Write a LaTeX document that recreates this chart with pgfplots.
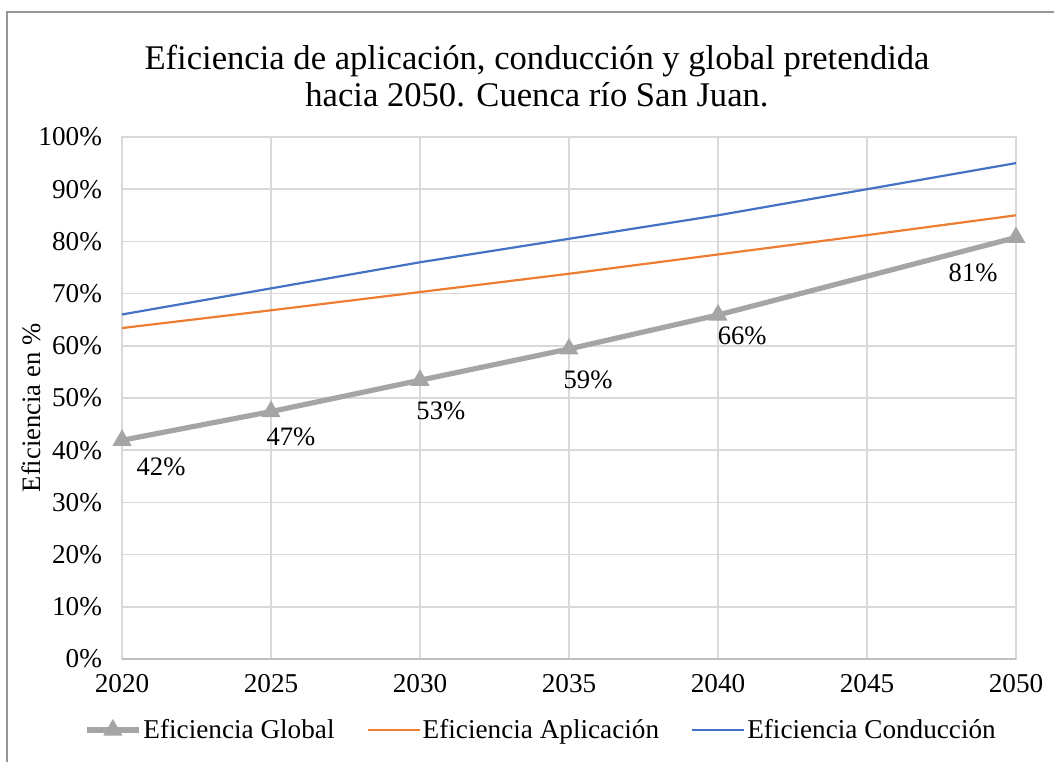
\documentclass[border=0pt]{standalone}
\usepackage{pgfplots}
\pgfplotsset{compat=1.18}
\usepackage{fontspec}
\setmainfont{Liberation Serif}
\definecolor{cglobal}{RGB}{165,165,165}
\definecolor{capl}{RGB}{237,125,49}
\definecolor{ccond}{RGB}{68,114,196}
\definecolor{gridc}{RGB}{217,217,217}
\definecolor{axc}{RGB}{191,191,191}
\definecolor{framec}{RGB}{150,150,150}
\begin{document}
\begin{tikzpicture}
\path[use as bounding box] (0,0) rectangle (527pt,381pt);
\draw[framec, line width=0.8pt] (3.5pt,0) -- (3.5pt,375pt) -- (527pt,375pt);
\node[align=center, font=\fontsize{17.3}{18.5}\selectfont] at (268.5pt,343pt)
  {Eficiencia de aplicación, conducción y global pretendida\\hacia 2050. Cuenca río San Juan.};
\begin{axis}[
  at={(61pt,51.5pt)}, anchor=south west,
  scale only axis, width=447pt, height=261pt,
  xmin=2020, xmax=2050, ymin=0, ymax=100,
  xtick={2020,2025,...,2050},
  ytick={0,10,...,100},
  yticklabel={\pgfmathprintnumber{\tick}\%},
  /pgf/number format/assume math mode=true,
  /pgf/number format/1000 sep={},
  tick label style={font=\fontsize{13.6}{15}\selectfont},
  major tick length=0pt,
  grid=major,
  grid style={gridc, line width=0.75pt},
  axis line style={gridc, line width=0.75pt},
  xticklabel style={yshift=-4pt},
  yticklabel style={xshift=-6.5pt},
  ylabel={Eficiencia en \%},
  ylabel style={font=\fontsize{13.3}{15}\selectfont, at={(ticklabel cs:0.5)}, anchor=center, xshift=-5pt},
  legend columns=3,
  legend style={at={(0.4687,-0.136)}, anchor=center, draw=none, fill=none,
    font=\fontsize{13.6}{15}\selectfont,
    nodes={inner xsep=1pt},
    /tikz/every even column/.append style={column sep=15pt}},
  legend image code/.code={\draw[mark repeat=2,mark phase=2,#1] plot coordinates {(0pt,0pt) (13pt,0pt) (26pt,0pt)};},
  legend cell align=left,
  clip=false,
]
\draw[axc, line width=0.75pt] (axis cs:2020,0) -- (axis cs:2050,0);
\addplot[cglobal, line width=2.6pt, mark=triangle*, mark size=5pt, mark options={solid, line width=0.5pt}] coordinates {
(2020,41.9) (2025,47.4) (2030,53.4) (2035,59.4) (2040,65.9) (2050,80.75)};
\addlegendentry{Eficiencia Global}
\addplot[capl, line width=1.1pt] coordinates {
(2020,63.4) (2025,66.8) (2030,70.3) (2035,73.8) (2040,77.5) (2045,81.2) (2050,85.0)};
\addlegendentry{Eficiencia Aplicación}
\addplot[ccond, line width=1.1pt] coordinates {
(2020,66.0) (2025,71.0) (2030,76.0) (2035,80.5) (2040,85.0) (2045,90.0) (2050,95.0)};
\addlegendentry{Eficiencia Conducción}
\begin{scope}[every node/.style={font=\fontsize{13.3}{15}\selectfont, anchor=center}]
\node at (axis cs:2021.31,36.8) {42\%};
\node at (axis cs:2025.67,42.5) {47\%};
\node at (axis cs:2030.70,47.5) {53\%};
\node at (axis cs:2035.64,53.4) {59\%};
\node at (axis cs:2040.81,61.9) {66\%};
\node at (axis cs:2048.56,74.0) {81\%};
\end{scope}
\end{axis}
\end{tikzpicture}
\end{document}
